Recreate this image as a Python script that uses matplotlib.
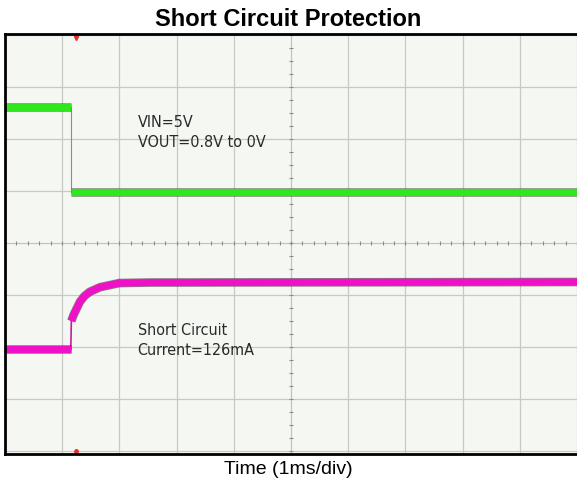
import numpy as np
import matplotlib.pyplot as plt
import matplotlib.patheffects as pe

# Scope traces, time in ms (1 ms/div), level in screen divisions (0..8)
vout_t = [0.0, 1.15, 1.15, 10.0]
vout_div = [6.62, 6.62, 4.98, 4.98]

cur_t = [0.0, 1.15, 1.16, 1.20, 1.24, 1.31, 1.39, 1.48, 1.66, 1.83, 2.00, 2.53, 10.0]
cur_div = [1.96, 1.96, 2.50, 2.62, 2.71, 2.87, 2.98, 3.06, 3.15, 3.19, 3.23, 3.24, 3.25]

trigger_t = 1.24

fig = plt.figure(figsize=(5.77, 4.83), dpi=100)
ax = fig.add_axes([5 / 577, 1 - 454 / 483, 1 - 5 / 577, (454 - 34) / 483])
ax.set_facecolor('#f5f8f2')
ax.set_xlim(0, 9.965)
ax.set_ylim(-0.058, 8.02)

# scope graticule
ax.set_xticks(np.arange(0, 11, 1))
ax.set_yticks(np.arange(0, 9, 1))
ax.grid(True, color='#c6c9c4', linewidth=0.9)
ax.tick_params(length=0, labelbottom=False, labelleft=False)
ax.axvline(5, color='#c0c3be', linewidth=0.6)
ax.axhline(4, color='#c0c3be', linewidth=0.6)
xs = np.arange(0, 10.01, 0.2)
ax.plot(xs, np.full_like(xs, 4), ls='none', marker='|', ms=3, mew=0.8, color='#8a8d88')
ys = np.arange(0, 8.01, 0.25)
ax.plot(np.full_like(ys, 5), ys, ls='none', marker='_', ms=3, mew=0.8, color='#8a8d88')

for s in ['left', 'top', 'bottom']:
    ax.spines[s].set_linewidth(2)
    ax.spines[s].set_color('black')
ax.spines['right'].set_visible(False)

# vertical edges as thin lines, levels as thick traces
ax.plot([vout_t[1], vout_t[2]], [vout_div[1], vout_div[2]], color='#8c8c8c', lw=0.8)
ax.plot([cur_t[1], cur_t[2]], [cur_div[1], cur_div[2]], color='#c020a0', lw=1.2)

dark = [pe.Stroke(linewidth=6.2, foreground='#1a3a1a', alpha=0.55), pe.Normal()]
ax.plot(vout_t[:2], vout_div[:2], color='#2ee81c', lw=5, solid_capstyle='butt', path_effects=dark)
ax.plot(vout_t[2:], vout_div[2:], color='#2ee81c', lw=5, solid_capstyle='butt', path_effects=dark)

dark_m = [pe.Stroke(linewidth=6.2, foreground='#3a0a30', alpha=0.55), pe.Normal()]
ax.plot(cur_t[:2], cur_div[:2], color='#f010c8', lw=5, solid_capstyle='butt', path_effects=dark_m)
ax.plot(cur_t[2:], cur_div[2:], color='#f010c8', lw=5, solid_capstyle='butt',
        solid_joinstyle='round', path_effects=dark_m)

# trigger markers
ax.plot(trigger_t, 7.95, marker='v', ms=3, color='#e03030', clip_on=False)
ax.plot(trigger_t, 0.0, marker='o', ms=2.5, color='#e03030', clip_on=False)

lab = dict(family='DejaVu Sans', fontstretch='condensed', fontsize=11.5,
           color='#2a2a2a', va='baseline')
ax.text(2.32, 6.23, 'VIN=5V', **lab)
ax.text(2.32, 5.85, 'VOUT=0.8V to 0V', **lab)
ax.text(2.32, 2.23, 'Short Circuit', **lab)
ax.text(2.32, 1.85, 'Current=126mA', **lab)

fig.text(0.5, 1 - 19 / 483, 'Short Circuit Protection', ha='center', va='center',
         family=['Liberation Sans', 'DejaVu Sans'], fontweight='bold', fontsize=17)
fig.text(0.5, 1 - 469 / 483, 'Time (1ms/div)', ha='center', va='center',
         family=['Liberation Sans', 'DejaVu Sans'], fontsize=14)

fig.savefig('out.png', dpi=100)
